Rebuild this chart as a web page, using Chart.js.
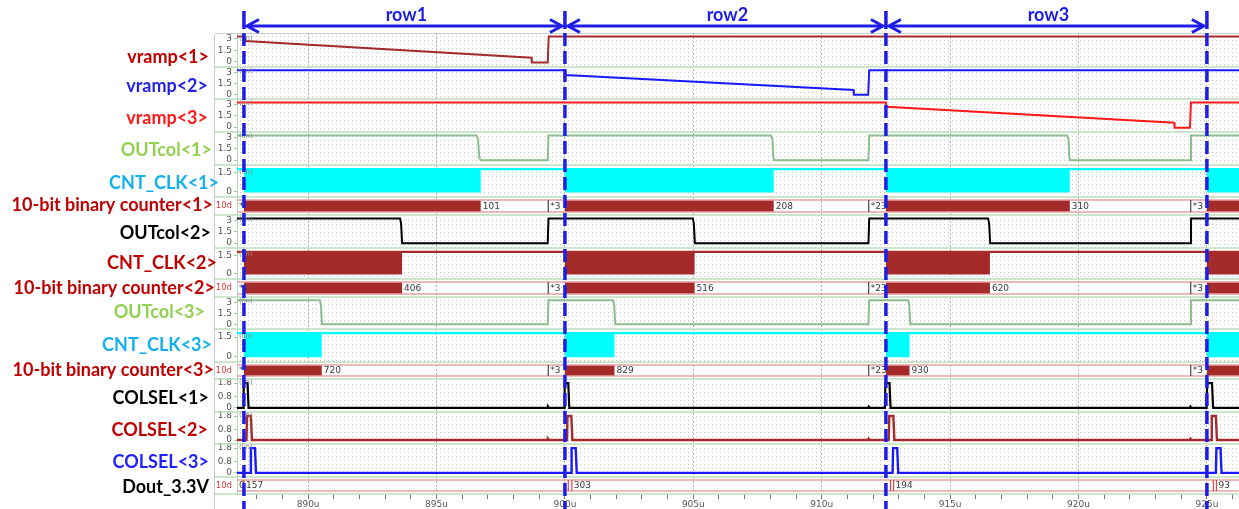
<!DOCTYPE html>
<html>
<head>
<meta charset="utf-8">
<title>Column-parallel counter readout timing</title>
<script src="https://cdn.jsdelivr.net/npm/chart.js@4.4.1/dist/chart.umd.min.js"></script>
<style>
  html, body { margin: 0; padding: 0; background: #ffffff; overflow: hidden; }
  #frame { position: relative; width: 1239px; height: 509px; }
  canvas { display: block; }
</style>
</head>
<body>
<div id="frame"><canvas id="timing" width="1239" height="509"></canvas></div>
<script>
// ===== Time axis (microseconds) =====
const timeRange = [887.23, 926.25];
const minorTimeTicks = [888, 889, 890, 891, 892, 893, 894, 895, 896, 897, 898, 899, 900, 901, 902, 903, 904, 905, 906, 907,
                        908, 909, 910, 911, 912, 913, 914, 915, 916, 917, 918, 919, 920, 921, 922, 923, 924, 925, 926];
const majorTimeTicks = [890, 895, 900, 905, 910, 915, 920, 925];
const majorTimeLabels = ['890u', '895u', '900u', '905u', '910u', '915u', '920u', '925u'];

// ===== Row readout windows =====
const rowEdges = [887.5, 900, 912.5, 925];
const rowNames = ['row1', 'row2', 'row3'];

// ===== Signal names, top to bottom =====
const signalNames = ['vramp<1>', 'vramp<2>', 'vramp<3>', 'OUTcol<1>', 'CNT_CLK<1>', '10-bit binary counter<1>',
                     'OUTcol<2>', 'CNT_CLK<2>', '10-bit binary counter<2>', 'OUTcol<3>', 'CNT_CLK<3>',
                     '10-bit binary counter<3>', 'COLSEL<1>', 'COLSEL<2>', 'COLSEL<3>', 'Dout_3.3V'];

// ===== Y tick values and labels per panel type =====
const analogTicks = [0, 1.5, 3];
const analogTickLabels = ['0', '1.5', '3'];
const clockTicks = [0, 1.5];
const clockTickLabels = ['0', '1.5'];
const selectTicks = [0, 0.8, 1.8];
const selectTickLabels = ['0', '0.8', '1.8'];
const busTicks = [0.5];
const busTickLabels = ['10d'];
const unitLabel = '(lin)';

// ===== Ramp references: [time µs, volts] =====
const vramp1 = [[887.23, 3.3], [887.53, 3.3], [887.56, 2.72], [898.70, 0.56], [898.71, -0.08], [899.33, -0.08], [899.37, 3.3], [926.25, 3.3]];
const vramp2 = [[887.23, 3.3], [900.00, 3.3], [900.03, 2.66], [911.24, 0.6], [911.25, -0.08], [911.81, -0.08], [911.85, 3.3], [926.25, 3.3]];
const vramp3 = [[887.23, 3.3], [912.50, 3.3], [912.53, 2.72], [923.73, 0.58], [923.74, -0.08], [924.34, -0.08], [924.38, 3.3], [926.25, 3.3]];

// ===== Column comparator outputs: [time µs, volts] =====
const outcol1 = [[887.23, 3.3], [896.56, 3.3], [896.62, 2.8], [896.66, 0.4], [896.72, 0], [899.33, 0], [899.36, 3.3],
                 [908.03, 3.3], [908.08, 2.8], [908.11, 0.4], [908.15, 0], [911.82, 0], [911.85, 3.3],
                 [919.56, 3.3], [919.61, 2.8], [919.64, 0.4], [919.68, 0], [924.35, 0], [924.38, 3.3], [926.25, 3.3]];
const outcol2 = [[887.23, 3.3], [893.58, 3.3], [893.62, 2.6], [893.66, 0], [899.33, 0], [899.36, 3.3],
                 [904.98, 3.3], [905.02, 2.6], [905.06, 0], [911.82, 0], [911.85, 3.3],
                 [916.48, 3.3], [916.52, 2.6], [916.56, 0], [924.35, 0], [924.38, 3.3], [926.25, 3.3]];
const outcol3 = [[887.23, 3.3], [890.46, 3.3], [890.50, 2.6], [890.54, 0], [899.33, 0], [899.36, 3.3],
                 [901.88, 3.3], [901.92, 2.6], [901.96, 0], [911.82, 0], [911.85, 3.3],
                 [913.37, 3.3], [913.41, 2.6], [913.45, 0], [924.35, 0], [924.38, 3.3], [926.25, 3.3]];

// ===== Counter clock bursts: [start, stop] µs =====
const clk1Bursts = [[887.5, 896.72], [900.0, 908.13], [912.5, 919.66], [925.0, 926.25]];
const clk2Bursts = [[887.5, 893.66], [900.0, 905.05], [912.5, 916.55], [925.0, 926.25]];
const clk3Bursts = [[887.5, 890.53], [900.0, 901.93], [912.5, 913.42], [925.0, 926.25]];
const clockHigh = 1.8;
const clockLow = -0.06;

// ===== Bus words: [start µs, end µs, value] =====
const count1Words = [[887.23, 887.5, '*'], [896.72, 899.35, '101'], [899.35, 900, '*3'], [908.13, 911.83, '208'],
                     [911.83, 912.5, '*23'], [919.66, 924.37, '310'], [924.37, 925, '*3']];
const count2Words = [[887.23, 887.5, '*'], [893.66, 899.35, '406'], [899.35, 900, '*3'], [905.05, 911.83, '516'],
                     [911.83, 912.5, '*23'], [916.55, 924.37, '620'], [924.37, 925, '*3']];
const count3Words = [[887.23, 887.5, '*'], [890.53, 899.35, '720'], [899.35, 900, '*3'], [901.93, 911.83, '829'],
                     [911.83, 912.5, '*23'], [913.42, 924.37, '930'], [924.37, 925, '*3']];
const doutWords = [[887.23, 887.5, '0'], [887.5, 900.13, '157'], [900.13, 900.27, ''], [900.27, 912.68, '303'],
                   [912.68, 912.8, ''], [912.8, 925.25, '194'], [925.25, 925.37, ''], [925.37, 926.25, '93']];
const countEdges = [899.35, 911.83, 924.37];
const doutEdges = [887.5, 900.13, 900.27, 912.68, 912.8, 925.25, 925.37];
const busRail = [0.17, 0.83];

// ===== Column select pulses: [time µs, volts] =====
const colsel1 = [[887.23, 0], [887.47, 0], [887.49, 1.8], [887.64, 1.8], [887.68, 0], [899.31, 0], [899.34, 0.1], [899.38, 0],
                 [899.97, 0], [899.99, 1.8], [900.13, 1.8], [900.17, 0], [911.80, 0], [911.83, 0.1], [911.87, 0],
                 [912.46, 0], [912.48, 1.8], [912.64, 1.8], [912.68, 0], [924.33, 0], [924.36, 0.1], [924.40, 0],
                 [924.99, 0], [925.01, 1.8], [925.20, 1.8], [925.24, 0], [926.25, 0]];
const colsel2 = [[887.23, 0], [887.60, 0], [887.62, 1.8], [887.77, 1.8], [887.81, 0], [899.31, 0], [899.34, 0.1], [899.38, 0],
                 [900.08, 0], [900.10, 1.8], [900.25, 1.8], [900.29, 0], [911.80, 0], [911.83, 0.1], [911.87, 0],
                 [912.61, 0], [912.63, 1.8], [912.79, 1.8], [912.83, 0], [924.33, 0], [924.36, 0.1], [924.40, 0],
                 [925.17, 0], [925.19, 1.8], [925.35, 1.8], [925.39, 0], [926.25, 0]];
const colsel3 = [[887.23, 0], [887.75, 0], [887.77, 1.8], [887.93, 1.8], [887.97, 0],
                 [900.24, 0], [900.26, 1.8], [900.42, 1.8], [900.46, 0],
                 [912.76, 0], [912.78, 1.8], [912.94, 1.8], [912.98, 0],
                 [925.35, 0], [925.37, 1.8], [925.53, 1.8], [925.57, 0], [926.25, 0]];

// ===== Layout and style =====
const panelKinds = ['analog', 'analog', 'analog', 'analog', 'clock', 'bus', 'analog', 'clock', 'bus',
                    'analog', 'clock', 'bus', 'select', 'select', 'select', 'bus'];
const panelHeights = [34, 32, 33, 33, 32, 18, 33, 31, 18, 32, 33, 17, 33, 32, 33, 17];
const panelRanges = { analog: [-0.65, 3.75], clock: [-0.42, 2.12], select: [-0.3, 2.1], bus: [0, 1] };
const labelColors = ['#c00000', '#2323e6', '#ff1a1a', '#92d050', '#12b0ee', '#c00000', '#000000', '#c00000',
                     '#c00000', '#92d050', '#12b0ee', '#c00000', '#000000', '#c00000', '#1f1fff', '#000000'];
const labelRight = [209, 208, 208, 212, 219, 213, 211, 217, 215, 205, 212, 214, 209, 208, 209, 209];
const labelNudge = [7, 3, 2.5, 1.5, 2, -1, 1.5, -0.5, 0, -1, -0.5, -0.5, 2.5, 2, 1.5, 1.5];
const MAROON = '#a52a2a';
const MARKER_BLUE = '#1d1de6';

const T0 = timeRange[0], T1 = timeRange[1];
const toXY = pts => pts.map(([x, y]) => ({ x, y }));

function burstOutline(bursts, base, edge) {
  const pts = [{ x: T0, y: base }];
  bursts.forEach(([a, b]) => { pts.push({ x: a, y: base }, { x: a, y: edge }, { x: b, y: edge }, { x: b, y: base }); });
  pts.push({ x: T1, y: base });
  return pts;
}
function edgeSegments(times) {
  const pts = [];
  times.forEach(t => { pts.push({ x: t, y: busRail[0] }, { x: t, y: busRail[1] }, { x: t, y: null }); });
  return pts;
}

const datasets = [];
function trace(panel, pts, color, width) {
  datasets.push({ yAxisID: 'y' + panel, data: toXY(pts), borderColor: color, borderWidth: width,
                  pointRadius: 0, tension: 0, fill: false, order: 0 });
}
function clock(panel, bursts, color) {
  datasets.push({ yAxisID: 'y' + panel, data: burstOutline(bursts, clockHigh, clockLow), borderWidth: 0,
                  borderColor: 'rgba(0,0,0,0)', backgroundColor: color, pointRadius: 0, tension: 0,
                  fill: { value: clockHigh }, order: 3 });
  datasets.push({ yAxisID: 'y' + panel, data: [{ x: T0, y: clockHigh }, { x: T1, y: clockHigh }],
                  borderColor: color, borderWidth: 2.2, pointRadius: 0, fill: false, order: 2 });
}
function bus(panel, bursts, edges, edgeColor) {
  if (bursts) {
    datasets.push({ yAxisID: 'y' + panel, data: burstOutline(bursts, busRail[0], busRail[1]), borderWidth: 0,
                    borderColor: 'rgba(0,0,0,0)', backgroundColor: MAROON, pointRadius: 0, tension: 0,
                    fill: { value: busRail[0] }, order: 3 });
  }
  busRail.forEach(v => {
    datasets.push({ yAxisID: 'y' + panel, data: [{ x: T0, y: v }, { x: T1, y: v }], borderColor: '#e3a2a2',
                    borderWidth: 1.5, pointRadius: 0, fill: false, order: 1 });
  });
  datasets.push({ yAxisID: 'y' + panel, data: edgeSegments(edges), borderColor: edgeColor, borderWidth: 1.2,
                  pointRadius: 0, fill: false, spanGaps: false, order: 0 });
}

trace(0, vramp1, MAROON, 2);
trace(1, vramp2, '#1a1aff', 2);
trace(2, vramp3, '#ff1a1a', 2);
trace(3, outcol1, '#8cbd8c', 2);
clock(4, clk1Bursts, '#00ffff');
bus(5, clk1Bursts, countEdges, '#444444');
trace(6, outcol2, '#000000', 2);
clock(7, clk2Bursts, MAROON);
bus(8, clk2Bursts, countEdges, '#444444');
trace(9, outcol3, '#8cbd8c', 2);
clock(10, clk3Bursts, '#00ffff');
bus(11, clk3Bursts, countEdges, '#444444');
trace(12, colsel1, '#000000', 2.2);
trace(13, colsel2, MAROON, 2.4);
trace(14, colsel3, '#1a1aff', 2.4);
bus(15, null, doutEdges, '#dd4444');

const busWordsByPanel = { 5: count1Words, 8: count2Words, 11: count3Words, 15: doutWords };
const tickSets = {
  analog: [analogTicks, analogTickLabels],
  clock: [clockTicks, clockTickLabels],
  select: [selectTicks, selectTickLabels],
  bus: [busTicks, busTickLabels]
};

// ----- scales: one shared time axis, one stacked value axis per signal -----
const scales = {
  x: {
    type: 'linear', position: 'bottom', min: T0, max: T1,
    afterBuildTicks: s => { s.ticks = minorTimeTicks.map(v => ({ value: v })); },
    afterFit: s => { s.height = 15; },
    ticks: {
      autoSkip: false, maxRotation: 0, padding: 0, color: '#555555',
      font: { family: 'DejaVu Sans', size: 9 },
      callback: v => { const k = majorTimeTicks.indexOf(v); return k >= 0 ? majorTimeLabels[k] : ''; }
    },
    grid: {
      color: c => (c.tick && majorTimeTicks.includes(c.tick.value)) ? '#b4b4b4' : 'rgba(0,0,0,0)',
      tickColor: '#777777', tickLength: 5, lineWidth: 1, tickBorderDash: [1, 0]
    },
    border: { display: false, dash: [2, 2] }
  }
};
panelKinds.forEach((kind, i) => {
  const [vals, labels] = tickSets[kind];
  const range = panelRanges[kind];
  scales['y' + i] = {
    type: 'linear', position: 'left', stack: 'signals', stackWeight: panelHeights[i], weight: 100 - i,
    min: range[0], max: range[1], offset: false,
    afterBuildTicks: s => { s.ticks = vals.map(v => ({ value: v })); },
    afterFit: s => { s.width = 23; },
    ticks: {
      autoSkip: false, padding: 2, color: kind === 'bus' ? '#ee3a3a' : '#555555',
      font: { family: 'DejaVu Sans', size: kind === 'bus' ? 8.5 : 9 },
      callback: v => { const k = vals.indexOf(v); return k >= 0 ? labels[k] : ''; }
    },
    grid: { drawOnChartArea: false, tickLength: 3, tickColor: kind === 'bus' ? 'rgba(0,0,0,0)' : '#9ccc9c' },
    border: { color: '#b3d8b3', width: 1 }
  };
});

// ----- drawing helpers for the panel background, labels and row markers -----
const decor = {
  id: 'decor',
  beforeDraw(chart) {
    const { ctx, chartArea: a } = chart;
    ctx.save();
    ctx.fillStyle = '#ffffff';
    ctx.fillRect(0, 0, chart.width, chart.height);
    const tile = document.createElement('canvas');
    tile.width = 4; tile.height = 4;
    const tctx = tile.getContext('2d');
    tctx.fillStyle = '#c9c9c9';
    tctx.fillRect(0, 0, 1, 1);
    ctx.fillStyle = ctx.createPattern(tile, 'repeat');
    panelKinds.forEach((kind, i) => {
      if (kind === 'bus') return;
      const s = chart.scales['y' + i];
      ctx.fillRect(a.left + 1, s.top + 2, a.right - a.left - 1, s.bottom - s.top - 3);
    });
    ctx.restore();
  },
  afterDraw(chart) {
    const { ctx, chartArea: a, scales: sc } = chart;
    const xs = sc.x;
    ctx.save();

    // panel separators and outer frame
    ctx.strokeStyle = '#bcdcbc';
    ctx.lineWidth = 1.5;
    panelKinds.forEach((kind, i) => {
      const y = sc['y' + i].bottom;
      ctx.beginPath(); ctx.moveTo(214, y); ctx.lineTo(a.right, y); ctx.stroke();
    });
    ctx.strokeStyle = '#cccccc';
    ctx.lineWidth = 1;
    ctx.beginPath();
    ctx.moveTo(214.5, chart.height);
    ctx.lineTo(214.5, 37);
    ctx.arcTo(214.5, 33.5, 218.5, 33.5, 3);
    ctx.lineTo(a.right, 33.5);
    ctx.stroke();

    // unit tags
    ctx.font = '7px "DejaVu Sans"';
    ctx.fillStyle = '#8c8c8c';
    ctx.textAlign = 'left';
    ctx.textBaseline = 'middle';
    panelKinds.forEach((kind, i) => {
      if (kind === 'bus') return;
      const vals = tickSets[kind][0];
      ctx.fillText(unitLabel, a.left + 2, sc['y' + i].getPixelForValue(vals[vals.length - 1]) - 1);
    });

    // bus values
    ctx.font = '9px "DejaVu Sans"';
    ctx.fillStyle = '#3a3a3a';
    Object.keys(busWordsByPanel).forEach(key => {
      const s = sc['y' + key];
      const top = s.getPixelForValue(busRail[1]);
      const bottom = s.getPixelForValue(busRail[0]);
      const mid = (top + bottom) / 2 + 0.5;
      busWordsByPanel[key].forEach(([t0, t1, txt]) => {
        if (!txt) return;
        const x0 = xs.getPixelForValue(t0);
        const x1 = Math.min(xs.getPixelForValue(t1), a.right);
        ctx.save();
        ctx.beginPath(); ctx.rect(x0, top, x1 - x0, bottom - top); ctx.clip();
        ctx.fillText(txt, x0 + 2, mid);
        ctx.restore();
      });
    });

    // signal names
    ctx.font = 'bold 18px Lato, "Open Sans", sans-serif';
    ctx.textAlign = 'right';
    ctx.textBaseline = 'middle';
    signalNames.forEach((name, i) => {
      const s = sc['y' + i];
      ctx.fillStyle = labelColors[i];
      ctx.fillText(name, labelRight[i], (s.top + s.bottom) / 2 + labelNudge[i]);
    });

    // row windows: arrows and names
    const px = rowEdges.map(t => xs.getPixelForValue(t));
    ctx.strokeStyle = MARKER_BLUE;
    ctx.fillStyle = MARKER_BLUE;
    ctx.lineWidth = 3;
    ctx.lineCap = 'butt';
    ctx.lineJoin = 'miter';
    const ay = 26;
    for (let r = 0; r < rowNames.length; r++) {
      const xa = px[r], xb = px[r + 1];
      ctx.beginPath(); ctx.moveTo(xa + 4, ay); ctx.lineTo(xb - 4, ay); ctx.stroke();
      ctx.beginPath(); ctx.moveTo(xa + 15, ay - 6.5); ctx.lineTo(xa + 3, ay); ctx.lineTo(xa + 15, ay + 6.5); ctx.stroke();
      ctx.beginPath(); ctx.moveTo(xb - 15, ay - 6.5); ctx.lineTo(xb - 3, ay); ctx.lineTo(xb - 15, ay + 6.5); ctx.stroke();
    }
    ctx.font = 'bold 18px Lato, "Open Sans", sans-serif';
    ctx.textAlign = 'center';
    ctx.textBaseline = 'middle';
    for (let r = 0; r < rowNames.length; r++) {
      ctx.fillText(rowNames[r], (px[r] + px[r + 1]) / 2 + 2, 15);
    }

    // row boundaries
    ctx.lineWidth = 3.5;
    px.forEach(x => {
      ctx.setLineDash([]);
      ctx.beginPath(); ctx.moveTo(x, 11); ctx.lineTo(x, 29); ctx.stroke();
      ctx.setLineDash([13, 5]);
      ctx.beginPath(); ctx.moveTo(x, 33); ctx.lineTo(x, chart.height); ctx.stroke();
    });
    ctx.restore();
  }
};

new Chart(document.getElementById('timing'), {
  type: 'line',
  data: { datasets },
  options: {
    responsive: false,
    maintainAspectRatio: false,
    devicePixelRatio: 1,
    animation: false,
    events: [],
    layout: { padding: { left: 214, top: 33, right: 0, bottom: 0 } },
    plugins: { legend: { display: false }, tooltip: { enabled: false } },
    scales
  },
  plugins: [decor]
});
</script>
</body>
</html>
